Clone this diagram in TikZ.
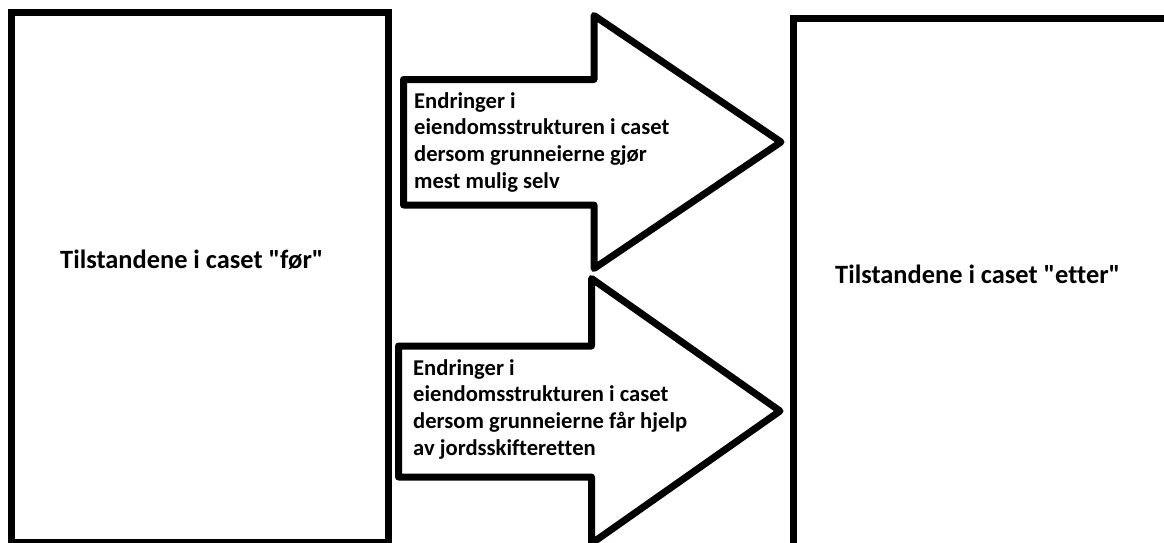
\documentclass[tikz,border=0pt]{standalone}
\usepackage{fontspec}
\setmainfont{Carlito}[Ligatures={NoCommon}]
\begin{document}
\begin{tikzpicture}[x=1pt,y=-1pt,
  frame/.style={draw=black,line width=7pt,line join=miter},
  bigarrow/.style={draw=black,line width=7pt,line join=round,fill=white},
  statetext/.style={font=\fontsize{26.4}{31}\selectfont\bfseries,inner sep=0pt,anchor=base west},
  arrowtext/.style={font=\fontsize{22.6}{26.7}\selectfont\bfseries,inner sep=0pt,anchor=north west,align=left}]
\useasboundingbox (0,0) rectangle (1164,543);
\clip (0,0) rectangle (1164,543);
\fill[white] (0,0) rectangle (1164,543);

% the two state boxes
\draw[frame] (11.5,13) rectangle (388.5,542);
\draw[frame] (793,18.5) rectangle (1175,547);

% upper block arrow
\draw[bigarrow] (403.5,79.5) -- (594,79.5) -- (594,15.5) -- (781,142)
  -- (594,268.5) -- (594,205) -- (403.5,205) -- cycle;
% lower block arrow
\draw[bigarrow] (398.5,346) -- (591.5,346) -- (591.5,278.5) -- (780,411)
  -- (591.5,543.5) -- (591.5,477) -- (398.5,477) -- cycle;

\node[statetext] (before) at (60,268) {Tilstandene i caset \textquotedbl før\textquotedbl};
\node[statetext] (after) at (835,283) {Tilstandene i caset \textquotedbl etter\textquotedbl};

\node[arrowtext] (selfhelp) at (414,92) {Endringer i\\eiendomsstrukturen i caset\\dersom grunneierne gjør\\mest mulig selv};
\node[arrowtext] (court) at (413,359) {Endringer i\\eiendomsstrukturen i caset\\dersom grunneierne får hjelp\\av jordsskifteretten};
\end{tikzpicture}
\end{document}
